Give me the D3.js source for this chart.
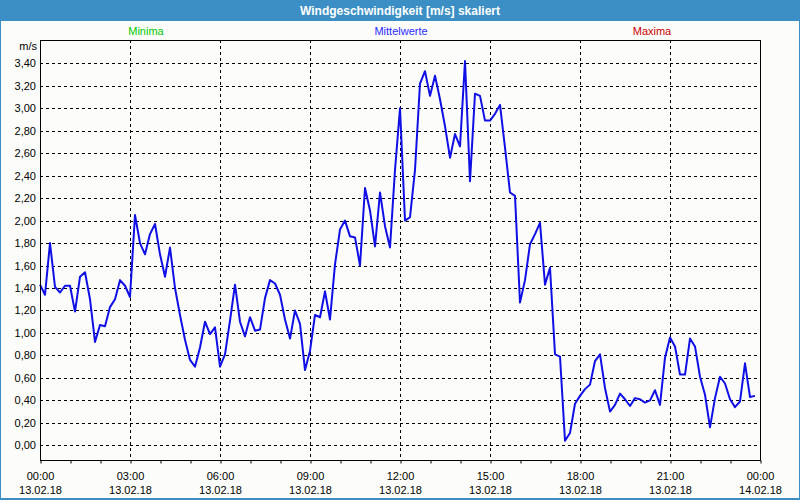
<!DOCTYPE html>
<html>
<head>
<meta charset="utf-8">
<script src="https://cdn.jsdelivr.net/npm/d3@7"></script>
<style>
  html, body { margin: 0; padding: 0; background: #ffffff; }
  svg { display: block; }
  text { font-family: "Liberation Sans", Arial, sans-serif; }
</style>
</head>
<body>
<svg id="chart" width="800" height="500"></svg>
<script>
// ---------------- data ----------------
const chartTitle = "Windgeschwindigkeit [m/s] skaliert";
const unitLabel = "m/s";
const legendNames = ["Minima", "Mittelwerte", "Maxima"];
const legendColors = ["#00c800", "#2a2aff", "#c80000"];
const startTime = "2018-02-13T00:00:00";
const stepMinutes = 10;
// 10-minute mean wind speed values (m/s), 13.02.18 00:00 .. 23:50
const meanValues = [
  1.43, 1.34, 1.80, 1.41, 1.36, 1.42, 1.42, 1.19, 1.50, 1.54,
  1.30, 0.92, 1.07, 1.06, 1.23, 1.30, 1.47, 1.42, 1.32, 2.05,
  1.80, 1.70, 1.88, 1.97, 1.70, 1.50, 1.76, 1.40, 1.16, 0.94,
  0.76, 0.70, 0.87, 1.10, 0.99, 1.05, 0.70, 0.81, 1.11, 1.43,
  1.10, 0.97, 1.14, 1.02, 1.03, 1.31, 1.47, 1.44, 1.34, 1.12,
  0.95, 1.20, 1.08, 0.67, 0.84, 1.16, 1.14, 1.37, 1.12, 1.61,
  1.92, 2.00, 1.86, 1.85, 1.60, 2.29, 2.09, 1.77, 2.25, 1.95,
  1.76, 2.45, 3.00, 2.00, 2.03, 2.45, 3.22, 3.33, 3.11, 3.29,
  3.08, 2.84, 2.56, 2.77, 2.66, 3.42, 2.35, 3.13, 3.11, 2.89,
  2.89, 2.95, 3.03, 2.65, 2.25, 2.22, 1.27, 1.47, 1.79, 1.88,
  1.98, 1.43, 1.58, 0.81, 0.79, 0.04, 0.11, 0.37, 0.44, 0.50,
  0.54, 0.75, 0.81, 0.51, 0.30, 0.36, 0.46, 0.41, 0.35, 0.42,
  0.41, 0.38, 0.40, 0.49, 0.36, 0.78, 0.96, 0.88, 0.63, 0.63,
  0.95, 0.88, 0.61, 0.45, 0.16, 0.42, 0.61, 0.55, 0.41, 0.34,
  0.39, 0.73, 0.43, 0.44
];
const yTickValues = [0, 0.2, 0.4, 0.6, 0.8, 1.0, 1.2, 1.4, 1.6, 1.8, 2.0, 2.2, 2.4, 2.6, 2.8, 3.0, 3.2, 3.4];
const xTickTimes = ["00:00", "03:00", "06:00", "09:00", "12:00", "15:00", "18:00", "21:00", "00:00"];
const xTickDates = ["13.02.18", "13.02.18", "13.02.18", "13.02.18", "13.02.18", "13.02.18", "13.02.18", "13.02.18", "14.02.18"];

// ---------------- layout ----------------
const W = 800, H = 500;
const plot = { left: 40, right: 760, top: 40, bottom: 460 };
const svg = d3.select("#chart");

const t0 = new Date(startTime);
const t1 = d3.timeDay.offset(t0, 1);
const points = meanValues.map((v, i) => ({ t: d3.timeMinute.offset(t0, i * stepMinutes), v }));

const x = d3.scaleTime().domain([t0, t1]).range([plot.left, plot.right]);
const y = d3.scaleLinear().domain([0, 3.4]).range([445.3, 63.3]);

// window frame + title bar
svg.append("rect").attr("x", 0).attr("y", 0).attr("width", W).attr("height", H).attr("fill", "#3c8fc4");
svg.append("rect").attr("x", 1).attr("y", 21).attr("width", W - 2).attr("height", H - 23).attr("fill", "#fcfdfa");
svg.append("text").attr("x", W / 2).attr("y", 15).attr("text-anchor", "middle")
  .attr("font-size", "12px").attr("font-weight", "bold").attr("fill", "#ffffff").text(chartTitle);

// legend
const legendX = [146, 401, 652];
svg.append("g").selectAll("text").data(legendNames).join("text")
  .attr("x", (d, i) => legendX[i]).attr("y", 35).attr("text-anchor", "middle")
  .attr("font-size", "11px").attr("fill", (d, i) => legendColors[i]).text(d => d);

// unit
svg.append("text").attr("x", 37).attr("y", 50).attr("text-anchor", "end")
  .attr("font-size", "11px").attr("fill", "#000").text(unitLabel);

// plot background
svg.append("rect").attr("x", plot.left).attr("y", plot.top)
  .attr("width", plot.right - plot.left).attr("height", plot.bottom - plot.top).attr("fill", "#fcfdfa");

// horizontal dashed grid
const majorTimes = xTickTimes.map((d, i) => d3.timeHour.offset(t0, i * 3));
svg.append("g").selectAll("line").data(yTickValues).join("line")
  .attr("x1", plot.left).attr("x2", plot.right)
  .attr("y1", d => Math.round(y(d)) + 0.5).attr("y2", d => Math.round(y(d)) + 0.5)
  .attr("stroke", "#000").attr("stroke-width", 1).attr("stroke-dasharray", "3,3");

// vertical dashed grid
svg.append("g").selectAll("line").data(majorTimes.slice(1, -1)).join("line")
  .attr("x1", d => Math.round(x(d)) + 0.5).attr("x2", d => Math.round(x(d)) + 0.5)
  .attr("y1", plot.top).attr("y2", plot.bottom)
  .attr("stroke", "#000").attr("stroke-width", 1).attr("stroke-dasharray", "3,3");

// y axis labels
const fmt = d => d3.format(".2f")(d).replace(".", ",");
svg.append("g").selectAll("text").data(yTickValues).join("text")
  .attr("x", 36).attr("y", d => y(d) + 4).attr("text-anchor", "end")
  .attr("font-size", "11px").attr("fill", "#000").text(fmt);

// x axis ticks (hourly, 3px below axis)
const hourly = d3.timeHour.range(t0, d3.timeMinute.offset(t1, 1));
const xAxis = d3.axisBottom(x).tickValues(hourly).tickSize(3).tickFormat("");
const gx = svg.append("g").attr("transform", `translate(0.5,${plot.bottom + 0.5})`).call(xAxis);
gx.select(".domain").remove();
gx.selectAll("line").attr("stroke", "#000");

// x axis labels
const gl = svg.append("g");
gl.selectAll("text.time").data(xTickTimes).join("text").attr("class", "time")
  .attr("x", (d, i) => x(majorTimes[i]) + 0.5).attr("y", 480).attr("text-anchor", "middle")
  .attr("font-size", "11px").attr("fill", "#000").text(d => d);
gl.selectAll("text.date").data(xTickDates).join("text").attr("class", "date")
  .attr("x", (d, i) => x(majorTimes[i]) + 0.5).attr("y", 494).attr("text-anchor", "middle")
  .attr("font-size", "11px").attr("fill", "#000").text(d => d);

// data line
const line = d3.line().x(d => x(d.t)).y(d => y(d.v));
svg.append("path").datum(points).attr("d", line)
  .attr("fill", "none").attr("stroke", "#1010e6").attr("stroke-width", 2).attr("stroke-linejoin", "round");

// plot frame
svg.append("rect").attr("x", plot.left + 0.5).attr("y", plot.top + 0.5)
  .attr("width", plot.right - plot.left).attr("height", plot.bottom - plot.top)
  .attr("fill", "none").attr("stroke", "#000").attr("stroke-width", 1);
</script>
</body>
</html>
